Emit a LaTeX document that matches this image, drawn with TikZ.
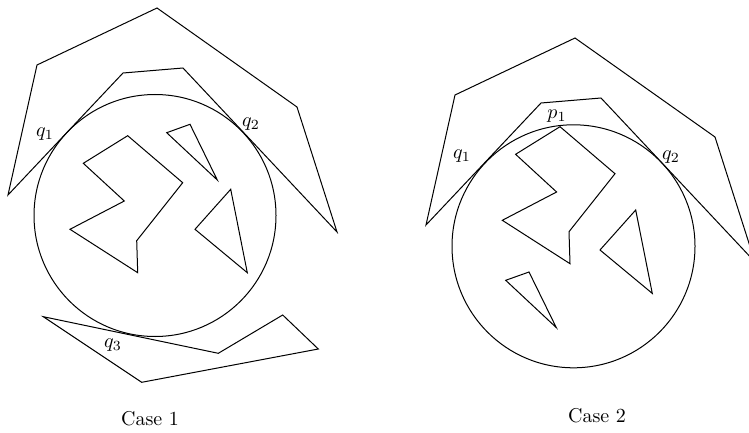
\documentclass[tikz,border=0pt]{standalone}
\begin{document}
\begin{tikzpicture}[x=0.5pt,y=-0.5pt]
\tikzset{poly/.style={draw=black, line width=0.5pt, line join=miter},
  lbl/.style={inner sep=0pt, font=\normalsize}}
\useasboundingbox (0,0) rectangle (749,433);
\clip (0,0) rectangle (749,433);
% ---------- Case 1 ----------
\draw[poly] (155,215.5) circle[radius=121];
\draw[poly] (8,195) -- (37,65) -- (157,8) -- (297,107) -- (337,232) -- (183,68) -- (123,73) -- cycle;
\draw[poly] (127.7,135.7) -- (182.7,182.7) -- (136.7,240.7) -- (137.7,272.7) -- (70,229.3) -- (124.3,201) -- (83.3,163.3) -- cycle;
\draw[poly] (166.7,132.7) -- (190,124.3) -- (217.3,180) -- cycle;
\draw[poly] (230.7,189.3) -- (195,229.3) -- (247.3,272.7) -- cycle;
\draw[poly] (43.3,316.7) -- (218.3,353.3) -- (282.7,315) -- (318.3,349) -- (141.7,382.3) -- cycle;
\node[lbl] (aq1) at (45,134) {$q_1$};
\node[lbl] (aq2) at (251,124) {$q_2$};
\node[lbl] (aq3) at (113,345) {$q_3$};
\node[lbl] (case1) at (150,419) {Case 1};
% ---------- Case 2 ----------
\draw[poly] (573.5,246.3) circle[radius=121.5];
\draw[poly] (426,225) -- (455,95) -- (575,38) -- (715,137) -- (755,262) -- (601,98) -- (541,103) -- cycle;
\draw[poly] (560,126.7) -- (615,173.7) -- (569,231.7) -- (570,263.7) -- (502.3,220.3) -- (556.6,192) -- (515.6,154.3) -- cycle;
\draw[poly] (505.7,280.3) -- (529,272) -- (556.3,327.6) -- cycle;
\draw[poly] (635.7,210) -- (600,250) -- (652.3,293.4) -- cycle;
\node[lbl] (bq1) at (462,156) {$q_1$};
\node[lbl] (bp1) at (557,116) {$p_1$};
\node[lbl] (bq2) at (671,157) {$q_2$};
\node[lbl] (case2) at (597,416) {Case 2};
\end{tikzpicture}
\end{document}
